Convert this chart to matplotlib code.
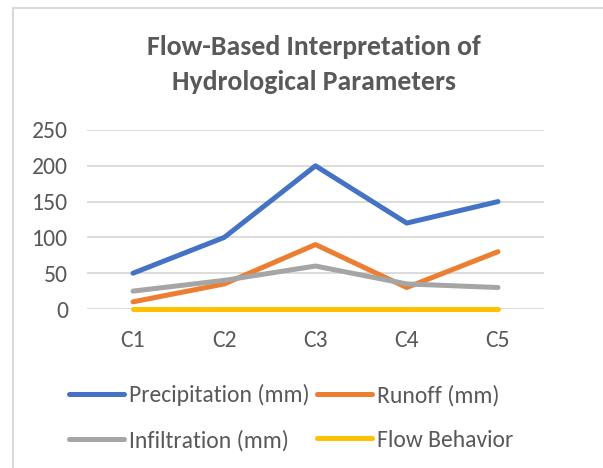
import matplotlib
matplotlib.use("Agg")
import matplotlib.pyplot as plt
from matplotlib.patches import Rectangle

plt.rcParams['font.family'] = ['Carlito', 'Lato', 'DejaVu Sans']

categories = ["C1", "C2", "C3", "C4", "C5"]
precipitation = [50, 100, 200, 120, 150]
runoff = [10, 35, 90, 30, 80]
infiltration = [25, 40, 60, 35, 30]
flow_behavior = [0, 0, 0, 0, 0]
y_ticks = [0, 50, 100, 150, 200, 250]

series = [
    ("Precipitation (mm)", precipitation, "#4472C4"),
    ("Runoff (mm)", runoff, "#ED7D31"),
    ("Infiltration (mm)", infiltration, "#A5A5A5"),
    ("Flow Behavior", flow_behavior, "#FFC000"),
]

W, H = 603, 468
fig = plt.figure(figsize=(W / 100, H / 100), dpi=100)
fig.patch.set_facecolor("white")

# chart border (right and bottom edges fall outside the image)
fig.patches.append(Rectangle((13 / W, -0.1), 1.2, 1.1 - 8 / H, transform=fig.transFigure,
                             fill=False, edgecolor="#D9D9D9", linewidth=1.5))

ax = fig.add_axes([87.4 / W, 1 - 309 / H, (543.6 - 87.4) / W, (309 - 130) / H])
x = list(range(len(categories)))
handles = []
for name, vals, col in series:
    h, = ax.plot(x, vals, color=col, linewidth=3.6, solid_capstyle="round",
                 solid_joinstyle="round", label=name, zorder=3, clip_on=False)
    handles.append(h)

ax.set_xlim(-0.5, len(categories) - 0.5)
ax.set_ylim(0, 250)
ax.set_yticks(y_ticks)
ax.set_xticks(x)
ax.set_xticklabels(categories)
ax.grid(axis="y", color="#D9D9D9", linewidth=1.3, zorder=0)
ax.set_axisbelow(True)
for s in ax.spines.values():
    s.set_visible(False)
ax.tick_params(axis="both", length=0, labelsize=17, labelcolor="#595959")
ax.tick_params(axis="x", pad=15)
ax.tick_params(axis="y", pad=14)

fig.text(313.5 / W, 1 - 35 / H, "Flow-Based Interpretation of\nHydrological Parameters",
         ha="center", va="top", fontsize=20, fontweight="bold", color="#595959",
         linespacing=1.55)

order = [0, 2, 1, 3]
leg = fig.legend(handles=[handles[i] for i in order], loc="upper left",
                 bbox_to_anchor=(69 / W, 1 - 384 / H),
                 ncol=2, frameon=False, fontsize=17, handlelength=2.35,
                 handletextpad=0.2, columnspacing=0.3, labelspacing=1.0,
                 borderpad=0, borderaxespad=0)
for t in leg.get_texts():
    t.set_color("#595959")

fig.savefig("out.png", dpi=100, facecolor="white")
